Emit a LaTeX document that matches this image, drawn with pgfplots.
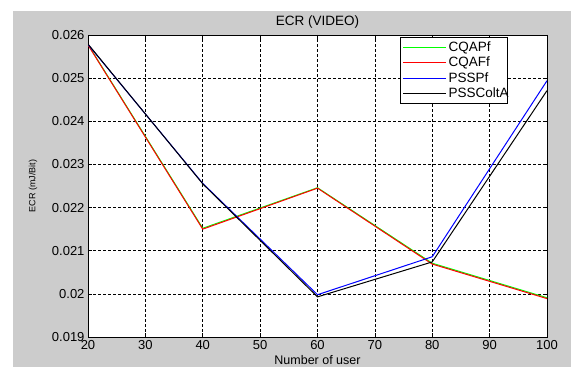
\documentclass[border=0pt]{standalone}
\usepackage{fontspec}
\setmainfont{Liberation Sans}
\usepackage{pgfplots}
\pgfplotsset{compat=1.18}
\usetikzlibrary{backgrounds}
\definecolor{figgray}{RGB}{204,204,204}
\definecolor{mgreen}{RGB}{0,255,0}
\definecolor{mred}{RGB}{255,0,0}
\definecolor{mblue}{RGB}{0,0,255}
\begin{document}
\begin{tikzpicture}[x=1pt,y=1pt]
\begin{axis}[
  at={(88pt,30pt)}, anchor=south west,
  scale only axis, width=459pt, height=302pt,
  xmin=20, xmax=100, ymin=0.019, ymax=0.026,
  xtick={20,30,...,100},
  ytick={0.019,0.020,0.021,0.022,0.023,0.024,0.025,0.026},
  yticklabels={0.019,0.02,0.021,0.022,0.023,0.024,0.025,0.026},
  scaled y ticks=false,
  /pgf/number format/assume math mode=true,
  ticklabel style={font=\fontsize{13}{15}\selectfont},
  xtick pos=both, ytick pos=both, tick align=inside,
  major tick length=4pt,
  tick style={black, line width=0.6pt},
  axis line style={black, line width=0.8pt},
  axis background/.style={fill=white},
  grid=major,
  major grid style={black, line width=0.6pt, dash pattern=on 2.5pt off 2.5pt},
  title={ECR (VIDEO)},
  every axis title shift=0pt,
  title style={at={(axis description cs:0.5,1.043)}, anchor=center, font=\fontsize{13.5}{15}\selectfont},
  xlabel={Number of user},
  ylabel={ECR (mJ/Bit)},
  xlabel style={at={(axis description cs:0.5,-0.077)}, anchor=center, font=\fontsize{12.5}{14}\selectfont},
  ylabel style={at={(axis description cs:-0.12,0.5)}, anchor=center, font=\fontsize{9}{10}\selectfont},
  legend style={at={(axis description cs:0.680,0.993)}, anchor=north west, draw=black, line width=0.6pt,
    font=\fontsize{13.5}{15}\selectfont, row sep=0pt, inner sep=2.5pt},
  legend cell align=left,
  legend image code/.code={\draw[mark repeat=2,mark phase=2,#1] plot coordinates {(0cm,0cm) (0.75cm,0cm) (1.5cm,0cm)};},
]
\addplot[mgreen, line width=1pt] coordinates {(20,0.02578) (40,0.02152) (60,0.02246) (80,0.02071) (100,0.01991)};
\addlegendentry{CQAPf\hspace*{-6pt}}
\addplot[mred, line width=1pt] coordinates {(20,0.02577) (40,0.02150) (60,0.02245) (80,0.02069) (100,0.01989)};
\addlegendentry{CQAFf\hspace*{-6pt}}
\addplot[mblue, line width=1pt] coordinates {(20,0.02578) (40,0.02256) (60,0.01998) (80,0.02086) (100,0.02494)};
\addlegendentry{PSSPf\hspace*{-6pt}}
\addplot[black, line width=1pt] coordinates {(20,0.02579) (40,0.02255) (60,0.01993) (80,0.02074) (100,0.02471)};
\addlegendentry{PSSColtA\hspace*{-6pt}}
\end{axis}
\begin{scope}[on background layer]
\fill[white] (0,0) rectangle (571,367);
\fill[figgray] (13,0) rectangle (571,356);
\end{scope}
\pgfresetboundingbox
\useasboundingbox (0,0) rectangle (571,367);
\end{tikzpicture}
\end{document}
